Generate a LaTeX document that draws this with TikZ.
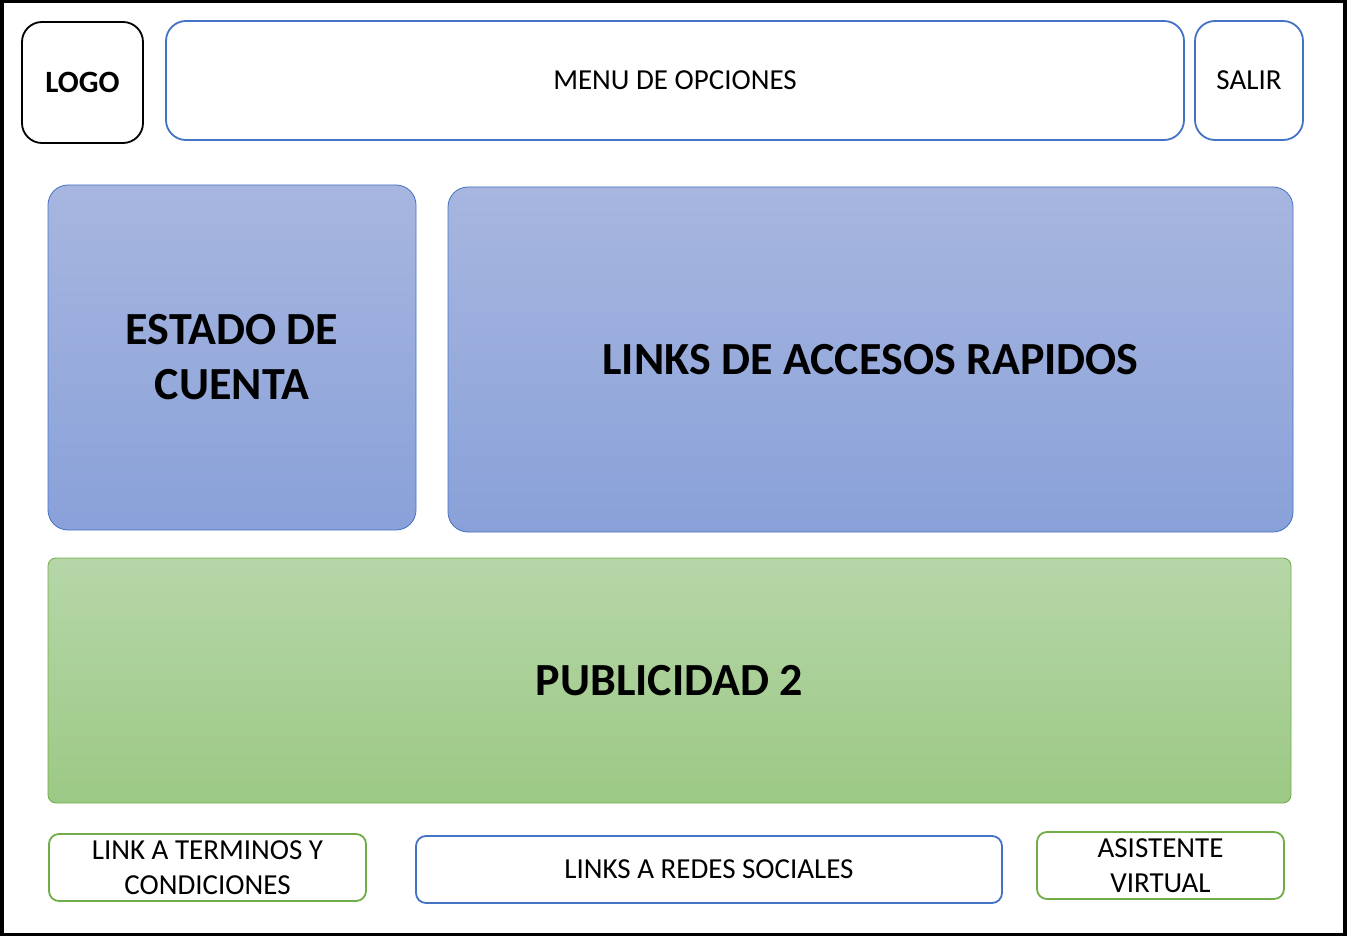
\documentclass[tikz,border=0pt]{standalone}
\usepackage{fontspec}
\setmainfont{Carlito}
\definecolor{bstroke}{HTML}{4472C4}
\definecolor{gstroke}{HTML}{70AD47}
\definecolor{btop}{HTML}{A7B6DF}
\definecolor{bbot}{HTML}{89A1D9}
\definecolor{gtop}{HTML}{B6D6A8}
\definecolor{gbot}{HTML}{9CC985}
\begin{document}
\begin{tikzpicture}[x=1pt,y=-1pt,
  base/.style={rectangle, inner sep=0pt, align=center, text=black},
  regtext/.style={font=\fontsize{29}{35}\selectfont},
  bigtext/.style={font=\bfseries\fontsize{46}{55}\selectfont},
  logobox/.style={base, draw=black, line width=1.8pt, rounded corners=20pt, font=\bfseries\fontsize{31}{35}\selectfont},
  bluebox/.style={base, regtext, draw=bstroke, line width=1.8pt, rounded corners=20pt},
  smallblue/.style={base, regtext, draw=bstroke, line width=1.8pt, rounded corners=10pt},
  smallgreen/.style={base, regtext, draw=gstroke, line width=1.8pt, rounded corners=10pt},
  panel/.style={base, bigtext, draw=bstroke, line width=0.8pt, rounded corners=20pt, top color=btop, bottom color=bbot},
  adpanel/.style={base, bigtext, draw=gstroke, line width=0.8pt, rounded corners=8pt, top color=gtop, bottom color=gbot}
]
\useasboundingbox (0,0) rectangle (1347,936);
\draw[line width=3.5pt, fill=white] (1.75,1.75) rectangle (1345,934.25);
% top row
\node[logobox, minimum width=121pt, minimum height=121pt] (logo) at (82.5,82.5) {LOGO};
\node[bluebox, minimum width=1018pt, minimum height=119pt] (menu) at (675,80.5) {MENU DE OPCIONES};
\node[bluebox, minimum width=108pt, minimum height=119pt] (salir) at (1249,80.5) {SALIR};
% panels
\node[panel, minimum width=368pt, minimum height=345pt] (estado) at (232,357.5) {ESTADO DE\\CUENTA};
\node[panel, minimum width=845pt, minimum height=345pt] (links) at (870.5,359.5) {LINKS DE ACCESOS RAPIDOS};
\node[adpanel, minimum width=1243pt, minimum height=245pt] (publi) at (669.5,680.5) {PUBLICIDAD 2};
% bottom row
\node[smallgreen, minimum width=317pt, minimum height=67pt] (terminos) at (207.5,867.5) {LINK A TERMINOS Y\\CONDICIONES};
\node[smallblue, minimum width=586pt, minimum height=67pt] (redes) at (709,869.5) {LINKS A REDES SOCIALES};
\node[smallgreen, minimum width=247pt, minimum height=67pt] (asistente) at (1160.5,865.5) {ASISTENTE\\VIRTUAL};
\end{tikzpicture}
\end{document}
